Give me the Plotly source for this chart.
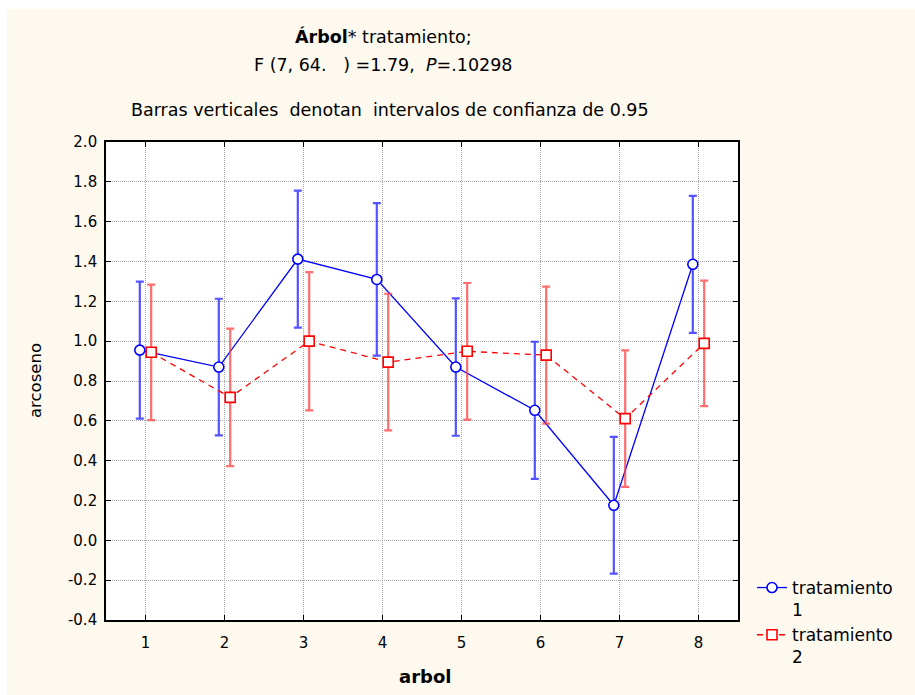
import plotly.graph_objects as go

# Tree index (arbol) and per-treatment means with 95% CI half-widths (arcoseno)
arbol = [1, 2, 3, 4, 5, 6, 7, 8]
trat1_media = [0.955, 0.870, 1.412, 1.310, 0.870, 0.653, 0.176, 1.386]
trat1_ic = [0.344, 0.343, 0.344, 0.383, 0.345, 0.344, 0.343, 0.344]
trat2_media = [0.944, 0.718, 1.000, 0.895, 0.949, 0.930, 0.611, 0.989]
trat2_ic = [0.340, 0.345, 0.347, 0.343, 0.343, 0.344, 0.343, 0.315]

y_ticks = [-0.4, -0.2, 0.0, 0.2, 0.4, 0.6, 0.8, 1.0, 1.2, 1.4, 1.6, 1.8, 2.0]
nombres = ["tratamiento<br>1", "tratamiento<br>2"]

FONT = "DejaVu Sans, Liberation Sans, Arial, sans-serif"
BG = "#FEF9EE"
W, H = 915, 695
ML, MR, MT, MB = 106, 177, 142, 75

desplaz = 0.072  # small horizontal dodge so the two series don't overlap

fig = go.Figure()
fig.add_trace(go.Scatter(
    x=[a - desplaz for a in arbol], y=trat1_media,
    mode="lines+markers", name=nombres[0],
    line=dict(color="#0000FF", width=1.3),
    marker=dict(symbol="circle", size=10, color="white",
                line=dict(color="#0000FF", width=1.6)),
    error_y=dict(type="data", array=trat1_ic, visible=True,
                 color="rgba(40,40,255,0.8)", thickness=2.2, width=4),
))
fig.add_trace(go.Scatter(
    x=[a + desplaz for a in arbol], y=trat2_media,
    mode="lines+markers", name=nombres[1],
    line=dict(color="#FF0000", width=1.3, dash="6px,5px"),
    marker=dict(symbol="square", size=10, color="white",
                line=dict(color="#FF0000", width=1.6)),
    error_y=dict(type="data", array=trat2_ic, visible=True,
                 color="rgba(255,60,60,0.75)", thickness=2.2, width=4),
))

def px_x(p):
    return (p - ML) / (W - ML - MR)

def px_y(p):
    return (H - MB - p) / (H - MT - MB)

annotations = [
    dict(text="<b>Árbol</b>* tratamiento;", x=px_x(383), y=px_y(37),
         font=dict(size=17.5)),
    dict(text="F (7, 64.\u00a0\u00a0\u00a0) =1.79,\u00a0 <i>P</i>=.10298",
         x=px_x(383), y=px_y(65), font=dict(size=17.5)),
    dict(text="Barras verticales\u00a0\u00a0denotan\u00a0\u00a0intervalos de confianza de 0.95",
         x=px_x(390), y=px_y(110), font=dict(size=17.5)),
    dict(text="arcoseno", x=px_x(35), y=px_y(381), textangle=-90,
         font=dict(size=16.5)),
    dict(text="<b>arbol</b>", x=px_x(425), y=px_y(676), font=dict(size=18)),
]
for a in annotations:
    a.update(xref="paper", yref="paper", showarrow=False,
             xanchor="center", yanchor="middle")
    a["font"].update(family=FONT, color="black")

shapes = [
    # thin white strips along the top and left edges of the canvas
    dict(type="rect", xref="paper", yref="paper", x0=-0.3, x1=1.5,
         y0=px_y(9), y1=px_y(-20), fillcolor="white", line_width=0, layer="below"),
    dict(type="rect", xref="paper", yref="paper", x0=px_x(-20), x1=px_x(7),
         y0=px_y(740), y1=px_y(-20), fillcolor="white", line_width=0, layer="below"),
]

axis_common = dict(
    showline=True, linecolor="black", linewidth=1.6, mirror="ticks",
    ticks="inside", ticklen=5, tickwidth=1.2, tickcolor="black",
    showgrid=True, gridcolor="#A8A8A8", gridwidth=1, griddash="1px,1px",
    zeroline=False, tickfont=dict(family=FONT, size=15, color="black"),
)

fig.update_layout(
    width=W, height=H,
    margin=dict(l=ML, r=MR, t=MT, b=MB, pad=0),
    paper_bgcolor=BG, plot_bgcolor="white",
    font=dict(family=FONT, color="black"),
    xaxis=dict(range=[0.5, 8.5], tickvals=arbol, ticktext=[str(a) for a in arbol],
               ticklabelstandoff=8, **axis_common),
    yaxis=dict(range=[-0.4, 2.0], tickvals=y_ticks,
               ticktext=[f"{v:.1f}" for v in y_ticks],
               ticklabelstandoff=4, **axis_common),
    legend=dict(x=px_x(752), y=px_y(570), xanchor="left", yanchor="top",
                bgcolor="rgba(0,0,0,0)", font=dict(family=FONT, size=17, color="black"),
                valign="top", tracegroupgap=2, itemwidth=30),
    annotations=annotations,
    shapes=shapes,
)

fig.write_html("out.html")
